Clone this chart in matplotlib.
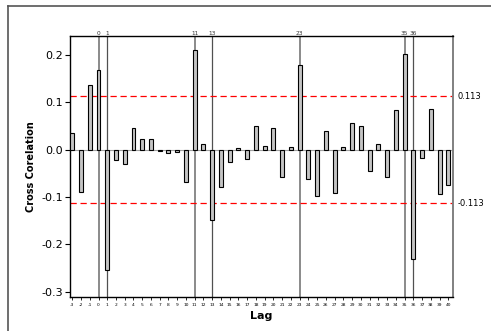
import numpy as np
import matplotlib
matplotlib.use("Agg")
import matplotlib.pyplot as plt
from matplotlib.lines import Line2D

# ---------------------------  DATA  -------------------------------------- #
lags = list(range(-3, 41))
ccf = [0.036, -0.089, 0.137, 0.168, -0.254, -0.022, -0.030, 0.045, 0.022, 0.022,
       -0.003, -0.008, -0.004, -0.068, 0.211, 0.013, -0.149, -0.078, -0.025, 0.004,
       -0.020, 0.051, 0.007, 0.045, -0.058, 0.005, 0.178, -0.062, -0.098, 0.040,
       -0.091, 0.005, 0.056, 0.051, -0.044, 0.012, -0.057, 0.083, 0.202, -0.231,
       -0.018, 0.085, -0.094, -0.074]
limit = 0.113
marked_light = [0, 11, 23, 35]
marked_dark = [1, 13, 36]

# ---------------------------  PLOT  -------------------------------------- #
fig = plt.figure(figsize=(4.91, 3.31), dpi=100)
ax = fig.add_axes([70/491, 34/331, 383/491, 261/331])

for x in marked_light:
    ax.axvline(x, color='#8a8a8a', lw=1.4, zorder=1)
for x in marked_dark:
    ax.axvline(x, color='#505050', lw=0.9, zorder=1)

ax.bar(lags, ccf, width=0.45, color='#c4c4c4', edgecolor='black', linewidth=0.8, zorder=3)
ax.axhline(0, color='#a0a0a0', lw=0.8, zorder=2)

ax.axhline(limit, color='red', ls=(0, (5, 3)), lw=0.9, zorder=2)
ax.axhline(-limit, color='red', ls=(0, (5, 3)), lw=0.9, zorder=2)
ax.text(1.012, limit, '0.113', transform=ax.get_yaxis_transform(), va='center', ha='left', fontsize=6)
ax.text(1.012, -limit, '-0.113', transform=ax.get_yaxis_transform(), va='center', ha='left', fontsize=6)

for x in marked_light + marked_dark:
    ax.text(x, 0.241, str(x), ha='center', va='bottom', fontsize=4.2, color='#333333')

ax.set_xlim(-3.26, 40.54)
ax.set_ylim(-0.311, 0.240)
ax.set_xticks(lags)
ax.set_xticklabels([str(l) for l in lags], fontsize=3.2)
ax.set_yticks([-0.3, -0.2, -0.1, 0.0, 0.1, 0.2])
ax.set_yticklabels(['-0.3', '-0.2', '-0.1', '0.0', '0.1', '0.2'], fontsize=8)
ax.tick_params(axis='x', length=2.5, width=0.6, pad=1.5)
ax.tick_params(axis='y', length=3.5, width=0.8, pad=1.5)

ax.spines['right'].set_color('#808080')
ax.spines['right'].set_linewidth(1.4)
for s in ['left', 'bottom', 'top']:
    ax.spines[s].set_linewidth(1.0)

ax.set_xlabel('Lag', fontsize=8, fontweight='bold', labelpad=3)
ax.set_ylabel('Cross Corelation', fontsize=7, fontweight='bold', labelpad=4)

# outer frame lines
fig.add_artist(Line2D([8/491, 8/491], [0, 1 - 5.5/331], color='#555555', lw=1.2))
fig.add_artist(Line2D([8/491, 1], [1 - 5.5/331, 1 - 5.5/331], color='#555555', lw=1.2))

fig.savefig('out.png', dpi=100)
